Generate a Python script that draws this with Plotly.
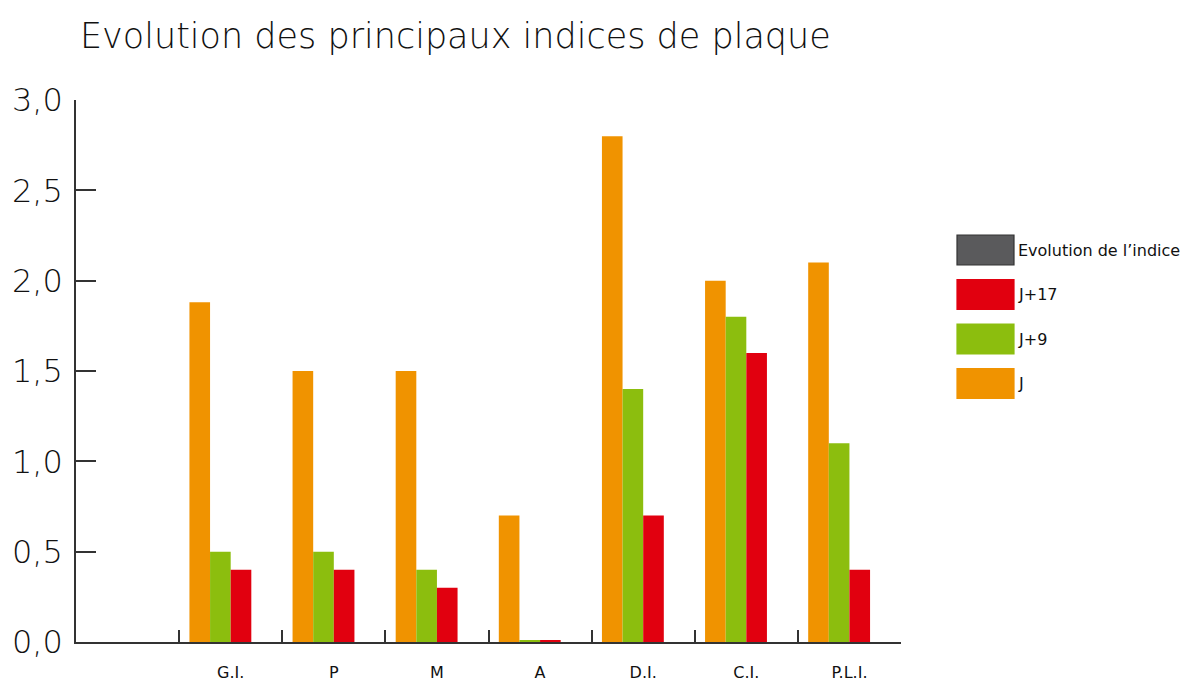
import plotly.graph_objects as go

# ---- data ----
categories = ["G.I.", "P", "M", "A", "D.I.", "C.I.", "P.L.I."]
empty_slot = " "
j_values = [1.88, 1.5, 1.5, 0.7, 2.8, 2.0, 2.1]
j9_values = [0.5, 0.5, 0.4, 0.01, 1.4, 1.8, 1.1]
j17_values = [0.4, 0.4, 0.3, 0.01, 0.7, 1.6, 0.4]
evolution_values = [None] * (len(categories) + 1)

series_names = ["J", "J+9", "J+17", "Evolution de l’indice"]
series_colors = ["#F09300", "#8CBE0E", "#E1000F", "#5A5A5C"]
y_ticks = [0.0, 0.5, 1.0, 1.5, 2.0, 2.5, 3.0]

FONT = "'DejaVu Sans', sans-serif"
W, H = 1194, 682
L, R, T, B = 76, 901, 100, 642

fig = go.Figure()
x_all = [empty_slot] + categories
fig.add_trace(go.Bar(x=x_all, y=[None] + j_values, name=series_names[0],
                     marker=dict(color=series_colors[0], line=dict(width=0))))
fig.add_trace(go.Bar(x=x_all, y=[None] + j9_values, name=series_names[1],
                     marker=dict(color=series_colors[1], line=dict(width=0))))
fig.add_trace(go.Bar(x=x_all, y=[None] + j17_values, name=series_names[2],
                     marker=dict(color=series_colors[2], line=dict(width=0))))
fig.add_trace(go.Bar(x=x_all, y=evolution_values, name=series_names[3],
                     marker=dict(color=series_colors[3], line=dict(width=0))))

def px_x(x):
    return (x - L) / (R - L)

def px_y(y):
    return (B - y) / (B - T)

# custom legend (big swatches)
legend_order = [3, 2, 1, 0]
top0, sw_h, step = 235, 30, 44.5
shapes = []
annotations = []
for k, idx in enumerate(legend_order):
    y0 = top0 + k * step
    shapes.append(dict(type="rect", xref="paper", yref="paper",
                       x0=px_x(957), x1=px_x(1014), y0=px_y(y0 + sw_h), y1=px_y(y0),
                       fillcolor=series_colors[idx],
                       line=dict(color="#333333" if idx == 3 else series_colors[idx], width=1.2)))
    annotations.append(dict(xref="paper", yref="paper", x=px_x(1016), y=px_y(y0 + sw_h / 2),
                            text=series_names[idx], showarrow=False, xanchor="left",
                            yanchor="middle",
                            font=dict(family=FONT, size=16, color="#111111", weight=400)))

fig.update_layout(
    width=W, height=H,
    margin=dict(l=L, r=W - R, t=T, b=H - B, autoexpand=False),
    paper_bgcolor="white", plot_bgcolor="white",
    showlegend=False,
    barmode="group", bargap=0.2, bargroupgap=0,
    separators=",.",
    title=dict(text="Evolution des principaux indices de plaque",
               x=80 / W, xref="container", xanchor="left",
               y=1 - 36 / H, yref="container", yanchor="middle",
               font=dict(family=FONT, size=35, color="#111111", weight=200)),
    shapes=shapes,
    annotations=annotations,
)
fig.update_xaxes(
    type="category", categoryorder="array", categoryarray=x_all,
    range=[-0.5, len(x_all) - 0.5], automargin=False,
    showline=True, linecolor="#333333", linewidth=1.5,
    ticks="inside", tickson="boundaries", ticklen=12, tickwidth=1.5, tickcolor="#333333",
    showgrid=False, zeroline=False,
    tickfont=dict(family=FONT, size=16, color="#111111", weight=400),
    ticklabelstandoff=15,
)
fig.update_yaxes(
    range=[0, 3], tickvals=y_ticks, tickformat=".1f", automargin=False,
    showline=True, linecolor="#333333", linewidth=1.5,
    ticks="inside", ticklen=20, tickwidth=1.5, tickcolor="#333333",
    showgrid=False, zeroline=False,
    tickfont=dict(family=FONT, size=32, color="#111111", weight=200),
    ticklabelstandoff=5,
)

fig.write_html("out.html", config={"displayModeBar": False},
               post_script="document.body.style.margin='0';document.body.style.padding='0';")
